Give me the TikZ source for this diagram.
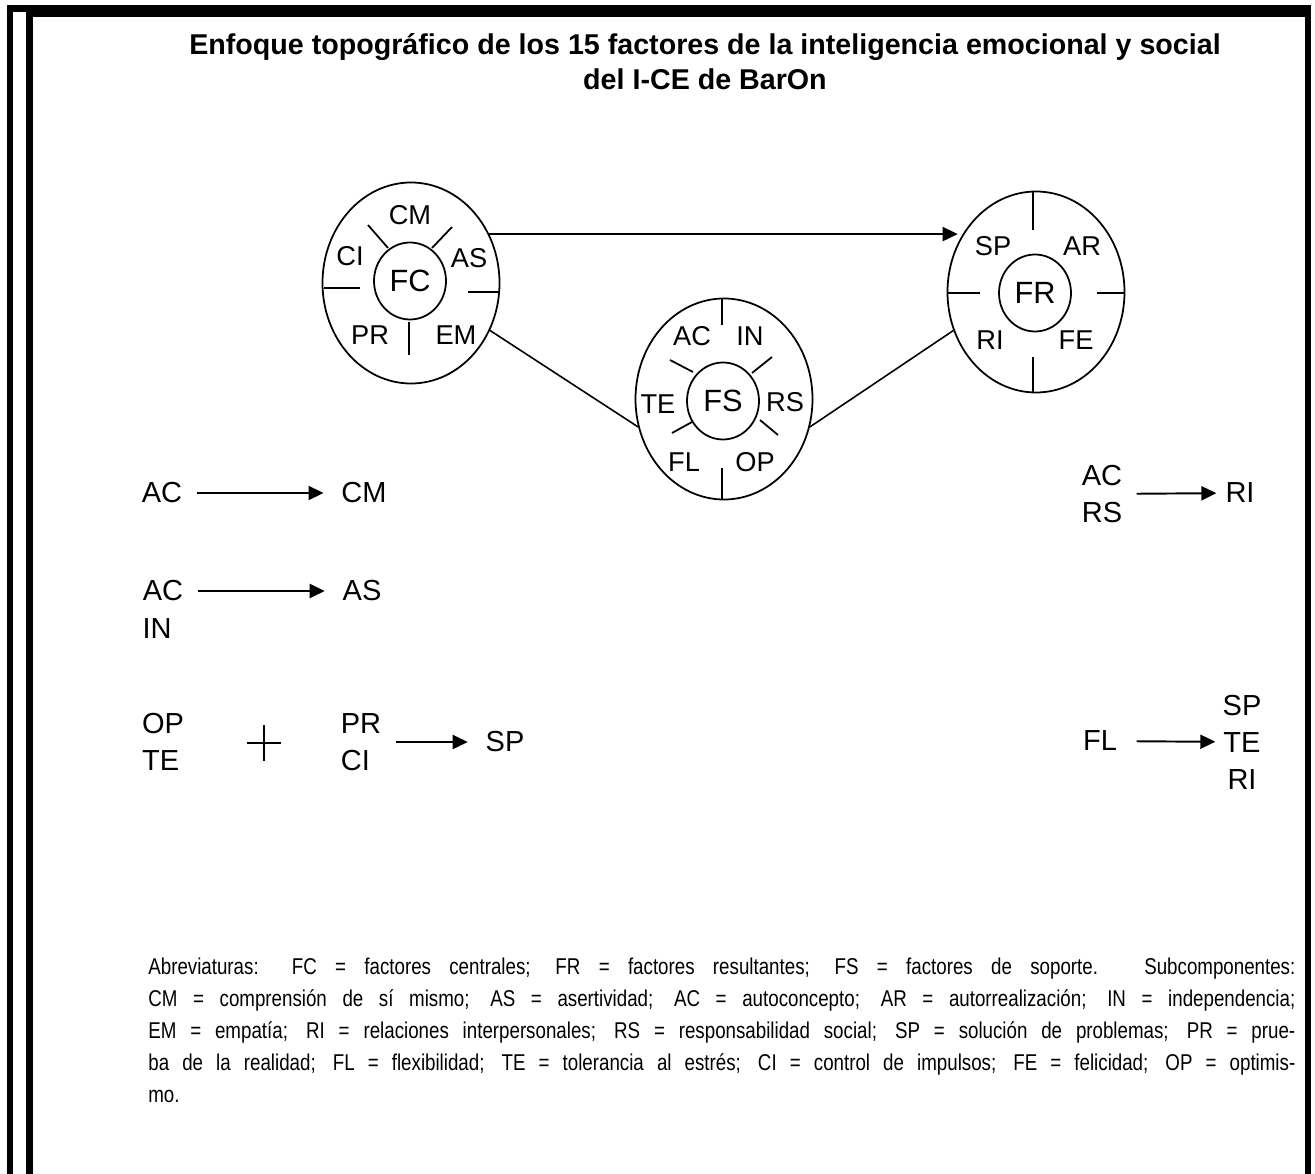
\documentclass[tikz,border=0pt]{standalone}
\usepackage{fontspec}
\setmainfont{Liberation Sans}
\newfontfamily\notefont[FakeStretch=0.82]{Liberation Sans}
\usetikzlibrary{arrows.meta,shapes.geometric}
\tikzset{
  ring/.style  ={draw, ellipse, minimum width=35.4mm, minimum height=40.2mm,
                 inner sep=0pt, line width=1pt},
  core/.style  ={draw, ellipse, minimum width=14.4mm, minimum height=15.4mm,
                 inner sep=0pt, line width=1pt,
                 font=\fontsize{17.5}{20}\selectfont},
  sub/.style   ={font=\fontsize{15.5}{18}\selectfont, inner sep=1pt},
  spoke/.style ={line width=1pt},
  conn/.style  ={-{Triangle[length=3mm, width=2.8mm]}, line width=1.1pt},
  link/.style  ={line width=0.9pt},
  fac/.style   ={font=\fontsize{16.5}{21}\selectfont, align=left, inner sep=2pt},
  rel/.style   ={-{Triangle[length=3mm, width=2.8mm]}, line width=1.1pt,
                 shorten <=6pt, shorten >=8pt},
  ttl/.style   ={font=\bfseries\fontsize{16.3}{20}\selectfont, align=center},
  note/.style  ={font=\notefont\fontsize{13}{18.2}\selectfont, align=justify,
                 text width=229.4mm, inner sep=0pt, anchor=north west},
}

\begin{document}
\begin{tikzpicture}[x=0.2mm, y=-0.2mm]
  \useasboundingbox (0,0) rectangle (1315,1174);
  % frame
  \fill (7,5) rectangle (13,1174);
  \fill (26,5) rectangle (33,1174);
  \fill (7,5) rectangle (1311,12);
  \fill (26,5) rectangle (1311,17);
  \fill (1305,5) rectangle (1311,1174);

  \node[ttl] (title) at (705,62)
    {Enfoque topográfico de los 15 factores de la inteligencia emocional y social\\
     del I-CE de BarOn};

  % factores centrales
  \node[ring] (fc) at (411,283) {};
  \node[core] (fcc) at (410,281) {FC};
  \draw[spoke] (324,288) -- (360,288);
  \draw[spoke] (468,292) -- (500,292);
  \draw[spoke] (409,322) -- (409,355);
  \draw[spoke] (368,225) -- (388,248);
  \draw[spoke] (452,227) -- (432,248);
  \node[sub] (cm) at (410,215) {CM};
  \node[sub] (ci) at (350,256) {CI};
  \node[sub] (as) at (469,258) {AS};
  \node[sub] (pr) at (370,335) {PR};
  \node[sub] (em) at (456,335) {EM};

  % factores de soporte
  \node[ring] (fs) at (724,399) {};
  \node[core] (fsc) at (723,401) {FS};
  \draw[spoke] (722,298) -- (722,325);
  \draw[spoke] (722,468) -- (722,500);
  \draw[spoke] (670,360) -- (693,372);
  \draw[spoke] (772,357) -- (752,373);
  \draw[spoke] (672,433) -- (692,422);
  \draw[spoke] (778,435) -- (760,420);
  \node[sub] (ac) at (692,336) {AC};
  \node[sub] (in) at (750,336) {IN};
  \node[sub] (te) at (658,404) {TE};
  \node[sub] (rs) at (785,402) {RS};
  \node[sub] (fl) at (684,462) {FL};
  \node[sub] (op) at (755,462) {OP};

  % factores resultantes
  \node[ring] (fr) at (1036,292) {};
  \node[core] (frc) at (1035,293) {FR};
  \draw[spoke] (1033,192) -- (1033,230);
  \draw[spoke] (1033,357) -- (1033,392);
  \draw[spoke] (948,293) -- (980,293);
  \draw[spoke] (1097,293) -- (1125,293);
  \node[sub] (sp) at (993,246) {SP};
  \node[sub] (ar) at (1082,246) {AR};
  \node[sub] (ri) at (990,340) {RI};
  \node[sub] (fe) at (1076,340) {FE};

  \draw[conn] (fc.32) -- (fc.32 -| fr.148);
  \draw[link] (fc.-31) -- (fs.198);
  \draw[link] (fs.-18) -- (fr.205);

  % relaciones
  \node[fac] (ac1) at (162,493) {AC};
  \node[fac] (cm1) at (364,493) {CM};
  \draw[rel] (ac1) -- (cm1);

  \node[fac] (ac2) at (163,591) {AC};
  \node[fac] (in2) at (157,629) {IN};
  \node[fac] (as2) at (362,591) {AS};
  \draw[rel] (ac2) -- (as2);

  \node[fac] (opte) at (163,742) {OP\\TE};
  \node (plus) at (264,743) {};
  \draw[line width=0.6pt] (247,743) -- (281,743) (264,725) -- (264,761);
  \node[fac] (prci) at (361,742) {PR\\CI};
  \node[fac] (sp3) at (505,742) {SP};
  \draw[rel] (prci) -- (sp3);

  \node[fac, align=center] (acrs) at (1102,494) {AC\\RS};
  \node[fac] (ri4) at (1240,493) {RI};
  \draw[rel, shorten >=3pt] (acrs) -- (ri4);

  \node[fac] (fl5) at (1100,741) {FL};
  \node[fac, align=center] (sptr) at (1242,742) {SP\\TE\\RI};
  \draw[rel, shorten <=9pt, shorten >=2pt] (fl5) -- (sptr);

  \node[note] (abr) at (148,958)
    {Abreviaturas: FC = factores centrales; FR = factores resultantes; FS = factores de soporte. Subcomponentes:\linebreak
     CM = comprensión de sí mismo; AS = asertividad; AC = autoconcepto; AR = autorrealización; IN = independencia;\linebreak
     EM = empatía; RI = relaciones interpersonales; RS = responsabilidad social; SP = solución de problemas; PR = prue-\linebreak
     ba de la realidad; FL = flexibilidad; TE = tolerancia al estrés; CI = control de impulsos; FE = felicidad; OP = optimis-\linebreak
     mo.};
\end{tikzpicture}
\end{document}
